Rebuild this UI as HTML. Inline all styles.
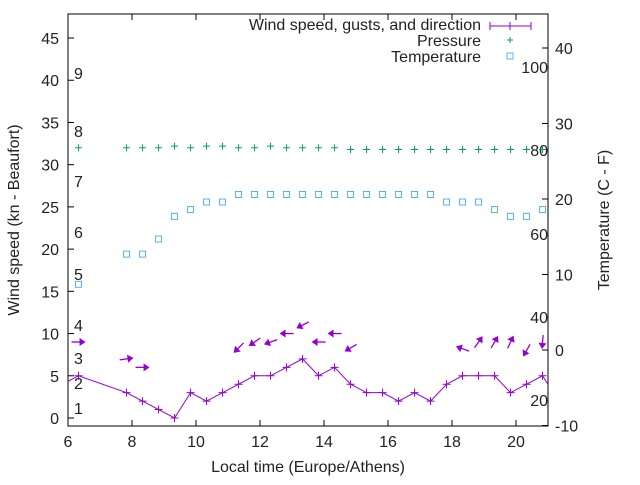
<!DOCTYPE html>
<html><head><meta charset="utf-8"><style>
body{margin:0;background:#fff}
svg text{font-family:"Liberation Sans",sans-serif;font-size:16px;fill:#222}
</style></head><body>
<svg id="chart" width="640" height="480" xmlns="http://www.w3.org/2000/svg"></svg>
<script>
const times=[6.33,7.83,8.33,8.83,9.33,9.83,10.33,10.83,11.33,11.83,12.33,12.83,13.33,13.83,14.33,14.83,15.33,15.83,16.33,16.83,17.33,17.83,18.33,18.83,19.33,19.83,20.33,20.83];
const wind=[5,3,2,1,0,3,2,3,4,5,5,6,7,5,6,4,3,3,2,3,2,4,5,5,5,3,4,5];
const temps=[8.7,12.7,12.7,14.7,17.7,18.6,19.6,19.6,20.6,20.6,20.6,20.6,20.6,20.6,20.6,20.6,20.6,20.6,20.6,20.6,20.6,19.6,19.6,19.6,18.6,17.7,17.7,18.6];
const pressure=[32,32,32,32,32.2,32,32.2,32.2,32,32,32.2,32,32,32,32,31.8,31.8,31.8,31.8,31.8,31.8,31.8,31.8,31.8,31.8,31.8,31.8,31.8];
const arrowTimes=[6.33,7.83,8.33,11.33,11.83,12.33,12.83,13.33,13.83,14.33,14.83,18.33,18.83,19.33,19.83,20.33,20.83];
const gusts=[9,7,6,8.3,9,9,10,11,9,10,8.3,8.2,9,9,9,8,9];
const dirs=[0,-8,0,135,145,160,180,153,180,180,150,200,-55,-60,-65,120,95];
const xTicks=[6,8,10,12,14,16,18,20];
const yTicks=[0,5,10,15,20,25,30,35,40,45];
const y2Ticks=[-10,0,10,20,30,40];
const bft=[["1",408],["2",383],["3",358],["4",325],["5",274],["6",232],["7",181],["8",131],["9",73]];
const hum=[["100",67],["80",150],["60",234],["40",317],["20",400]];

const L=68,R=548,T=14,B=426;
const X=t=>L+(t-6)*32;
const Y=v=>418-v*8.444;
const Y2=v=>350-v*7.55;
const svg=document.getElementById('chart');
const NS='http://www.w3.org/2000/svg';
function mk(tag,at,parent){const e=document.createElementNS(NS,tag);for(const k in at)e.setAttribute(k,at[k]);(parent||svg).appendChild(e);return e;}

let fr=mk('rect',{x:L,y:T,width:R-L,height:B-T,fill:'none',stroke:'#000','stroke-width':1});



xTicks.forEach(t=>{
  mk('line',{x1:X(t),x2:X(t),y1:B,y2:B-6,stroke:'#000'});
  mk('line',{x1:X(t),x2:X(t),y1:T,y2:T+6,stroke:'#000'});
  const tx=mk('text',{x:X(t),y:B+21,'text-anchor':'middle'});tx.textContent=t;
  
  
});
yTicks.forEach(v=>{
  mk('line',{x1:L,x2:L+6,y1:Y(v),y2:Y(v),stroke:'#000'});
  const tx=mk('text',{x:L-9,y:Y(v)+6,'text-anchor':'end'});tx.textContent=v;
  
  
});
y2Ticks.forEach(v=>{
  mk('line',{x1:R-6,x2:R,y1:Y2(v),y2:Y2(v),stroke:'#000'});
  const tx=mk('text',{x:R+7,y:Y2(v)+6,'text-anchor':'start'});tx.textContent=v;
  
  
});
bft.forEach(b=>{const tx=mk('text',{x:74,y:b[1]+6});tx.textContent=b[0];
  
  });
hum.forEach(b=>{const tx=mk('text',{x:548,y:b[1]+6,'text-anchor':'end'});tx.textContent=b[0];
  
  });

let t1=mk('text',{x:308,y:472,'text-anchor':'middle'});t1.textContent='Local time (Europe/Athens)';

let t2=mk('text',{x:0,y:0,'text-anchor':'middle',transform:'translate(19,220) rotate(-90)'});t2.textContent='Wind speed (kn - Beaufort)';

let t3=mk('text',{x:0,y:0,'text-anchor':'middle',transform:'translate(609,220) rotate(-90)'});t3.textContent='Temperature (C - F)';


const purple='#9400d3',green='#009e73',blue='#56b4e9';
const g=mk('g',{});

mk('clipPath',{id:'cp'});mk('rect',{x:L,y:T,width:R-L,height:B-T},svg.lastChild);
g.setAttribute('clip-path','url(#cp)');

let pts=[[X(5.83),Y(4)]].concat(times.map((t,i)=>[X(t),Y(wind[i])])).concat([[X(21.33),Y(2)]]);
let pl=mk('polyline',{points:pts.map(p=>p.join(',')).join(' '),fill:'none',stroke:purple,'stroke-width':1},g);

times.forEach((t,i)=>{const x=X(t),y=Y(wind[i]);
  const p=mk('path',{d:`M${x-4},${y}H${x+4}M${x},${y-4}V${y+4}`,stroke:purple},g);
  });
arrowTimes.forEach((t,i)=>{const x=X(t),y=Y(gusts[i]);
  const a=mk('g',{transform:`translate(${x},${y}) rotate(${dirs[i]})`},g);
  
  mk('line',{x1:-7,y1:0,x2:5,y2:0,stroke:purple,'stroke-width':1.3},a);
  mk('path',{d:'M7,0 L1,-4 L1,4Z',fill:purple},a);});
times.forEach((t,i)=>{const x=X(t),y=Y(pressure[i]);
  const p=mk('path',{d:`M${x-3.5},${y}H${x+3.5}M${x},${y-3.5}V${y+3.5}`,stroke:green},g);
  });
times.forEach((t,i)=>{const x=X(t),y=Y2(temps[i]);
  const p=mk('rect',{x:x-3,y:y-3,width:6,height:6,fill:'none',stroke:blue},g);
  });

const leg=mk('g',{});
[['Wind speed, gusts, and direction',24],['Pressure',40],['Temperature',56]].forEach(r=>{
  const tx=mk('text',{x:481,y:r[1]+6,'text-anchor':'end'},leg);tx.textContent=r[0];
  });
mk('path',{d:'M490,26H531M490,22V30M531,22V30M510,22V30',stroke:purple},leg);
mk('path',{d:'M507,40H513M510,37V43',stroke:green},leg);
mk('rect',{x:507,y:53,width:6,height:6,fill:'none',stroke:blue},leg);
</script>
</body></html>
